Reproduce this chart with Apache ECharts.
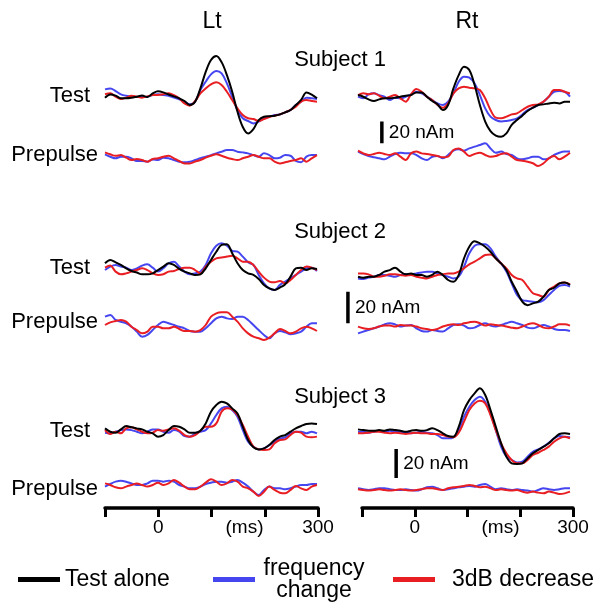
<!DOCTYPE html>
<html>
<head>
<meta charset="utf-8">
<script src="https://cdn.jsdelivr.net/npm/echarts@6/dist/echarts.min.js"></script>
<style>
  html, body { margin: 0; padding: 0; background: #fff; }
  #chart { width: 600px; height: 609px; }
</style>
</head>
<body>
<div id="chart"></div>
<script>
// time base (ms), shared by every trace
const times = [-100, -90, -80, -70, -60, -50, -40, -30, -20, -10, 0, 10, 20, 30, 40, 50, 60, 70, 80, 90,
  100, 110, 120, 130, 140, 150, 160, 170, 180, 190, 200, 210, 220, 230, 240, 250, 260, 270, 280, 290, 300];
const tickLabels = { 0: '0', 300: '300' };

// Subject 1 (nAm)
const s1LtTestBlack = [-1, 2, 1, -1.5, -1.5, -1, 0, 1, -0.3, 3, 5, 4, 2, 0.3, -1.5, -4, -7.7, -4.6, 7.7, 23, 34, 37.7, 32, 20, 4.6, -14, -28, -34, -30, -21.6, -18.5, -18, -17.6, -16.4, -14.5, -12.3, -7.7, -3, 4, 2, -1.5];
const s1LtTestBlue = [6.8, 7.7, 5.2, 2.2, 0.9, 0.3, -0.3, -0.3, 0, 1.5, 2.2, 1.5, 0.9, -0.9, -2.5, -4.6, -7.1, -4.6, 6.2, 13.9, 20.7, 23.8, 21.6, 12.3, 0, -12.3, -20, -22.5, -24.7, -23, -20, -18.5, -17, -16.4, -14.5, -12.3, -7.7, -4.6, -0.9, -1.5, -2.2];
const s1LtTestRed = [2.2, 3.1, 0, -2.2, -0.9, 0.9, 0, -0.9, 0.3, 1.5, 1.5, 2.2, 3.1, 1.5, -1.5, -6.2, -8.3, -4, 3.1, 7.7, 11.4, 13.3, 10.8, 4.6, -3.1, -10.8, -17, -20, -20.7, -22.5, -20.7, -18.8, -17.6, -16.4, -14.5, -12.3, -9.3, -4.6, -3.1, -4, -4.6];
const s1LtPreBlue = [2.2, 0, -1.5, 0, 0, -1.5, -4, -4, -4.6, -2.5, -3.1, -0.9, -1.5, -3.1, -4.6, -5.2, -4.6, -3.1, -1.5, 0, 1.5, 3.1, 4.6, 6.2, 6.2, 4.6, 4, 3.1, 1.5, 0, 3.1, 1.5, -1.5, -0.9, 1.5, 0.9, -4, -5.2, 0, 1.5, 1.5];
const s1LtPreRed = [4, 2.2, 0.9, 1.5, -0.9, -3.1, -2.2, -3.1, -4.6, -2.2, -1.5, 0, 0.9, -1.5, -4, -6.2, -6.2, -4.6, -3.1, -0.9, 0.9, 2.2, 0.9, -0.9, -2.2, -3.1, -1.5, 0, 1.5, 0, -1.5, -1.5, -4.6, -6.2, -5.2, -4, -3.1, -1.5, -4.6, -1.5, 1.5];
const s1RtTestBlack = [1.5, 0, -2.5, -4, -2.5, -1.5, -1.5, -0.9, 0, 0.9, 1.5, 4, 4, 0, -4, -7.1, -12.3, -7.7, 7.7, 20, 27.8, 24.7, 10.8, -7.7, -23, -31.8, -36, -37, -34, -26, -21.6, -17.6, -13.3, -10.2, -7.7, -7.1, -6.2, -5.6, -6.2, -4.6, -4.6];
const s1RtTestBlue = [0, -1.5, 2.2, 3.1, 1.5, 0, -3.1, -0.9, -1.5, 0, 2.2, 4.6, 3.1, 0, -3.1, -6.2, -7.7, -4.6, 3.1, 13.9, 18.5, 17.6, 12.3, 1.5, -10.8, -18.5, -21.6, -23, -22.5, -21.6, -20, -16.4, -12.3, -10.2, -7.7, -4.6, 0, 4.6, 5.2, 4.6, 0];
const s1RtTestRed = [1.5, 3.1, 2.2, 3.1, 0.9, -1.5, 0, 1.5, -1.5, -4.6, 2.2, 7.1, 4.6, 0, -3.1, -7.7, -10.2, -6.2, 3.1, 7.7, 9.3, 8.3, 7.7, 6.2, -1.5, -12.3, -19.4, -20, -18.5, -16.4, -15.4, -12.3, -9.3, -7.7, -7.1, -4.6, 0, 6.2, 6.2, 4.6, 3.1];
const s1RtPreBlue = [2.2, 0, -1.9, -3.1, -4, -4.9, -2.5, 0, 1.2, 0.6, 0.6, -0.9, -4, -5.6, -2.5, -1.9, -4, -0.9, 3.1, 4.3, 3.1, 5.2, 6.8, 8.3, 9.9, 5.2, 1.2, 2.2, 0, -0.9, -4, -4.9, -4, -2.5, -2.5, -4.9, -4, -0.9, 1.2, 2.2, 2.2];
const s1RtPreRed = [3.1, 0.6, -0.9, 0, 1.2, 0, -0.9, 0.6, -2.5, -5.6, 0.6, 2.2, 0.6, 0, -0.9, -1.9, -3.1, -2.5, 3.7, 5.2, 2.2, -1.9, 0, 1.2, -0.9, -2.5, -1.9, 0, 0.6, -2.5, -5.6, -6.2, -7.1, -8.6, -11.1, -8.6, -4, -1.9, -4.9, -2.5, 1.2];

// Subject 2 (nAm)
const s2LtTestBlack = [3.2, 5.3, 3.8, 2.1, 0, -1.7, -2.7, -3.8, -3.8, -3.2, -1.1, 1.1, 3.2, 2.1, -0.4, -2.1, -3.2, -4.2, -3.8, 0, 5.3, 10.5, 14.8, 15.2, 9.5, 3.2, -1.1, -3.2, -4.2, -6.8, -10.5, -12.7, -13.7, -12.2, -10.1, -5.3, 0, 0.4, -1.1, 0, -0.4];
const s2LtTestBlue = [-1.1, 1.1, 2.1, 1.1, 0.4, -1.1, 0, 1.7, 2.5, 0.4, -2.1, 0, 3.2, 4.2, 1.1, -2.1, -3.8, -3.2, -2.1, 2.1, 9.5, 14.3, 15.8, 14.3, 11, 10.5, 7.4, 3.8, 2.1, -4.2, -9.5, -12.7, -13.7, -10.5, -8.4, -6.3, -4.2, -2.1, 0, 0.4, -1.7];
const s2LtTestRed = [0.4, 1.7, -2.1, -3.8, -3.2, -2.1, -1.1, 0, -1.1, -3.2, -4.2, -3.8, -2.1, -1.7, -0.4, 0.4, 0.4, -1.1, -3.2, 1.1, 4.2, 6.3, 6.8, 7.4, 8, 6.3, 4.2, 4.2, 2.1, -2.1, -5.9, -8.4, -8.9, -8, -9.5, -7.4, -4.2, -1.1, 1.1, 0.4, -1.1];
const s2LtPreBlue = [5.3, 6.3, 3.2, 2.1, 1.1, -1.1, -4.2, -7.4, -6.3, -3.2, 0, 2.1, 1.1, 0, -1.1, -2.1, -3.8, -4.2, -4.2, -2.1, 1.1, 4.2, 5.3, 4.2, 3.8, 5.3, 5.3, 3.2, 0, -3.2, -6.3, -8.4, -5.3, -3.8, -4.6, -5.9, -5.3, -4.2, -1.1, 1.1, 1.1];
const s2LtPreRed = [0, 1.7, 2.5, 3.2, 2.1, -1.1, -3.2, -5.3, -4.2, -1.1, -1.1, -2.1, -2.1, -1.1, -2.5, -3.8, -3.8, -4.2, -3.2, 0, 5.3, 7.4, 8, 8, 5.3, 2.1, -2.1, -5.3, -7.4, -8.4, -9.5, -8, -5.3, -2.5, -3.8, -5.3, -4.2, -2.1, -1.1, -2.1, -3.8];
const s2RtTestBlack = [0, -0.6, 0, 0, 1.1, 3.2, 4.2, 5.7, 3.2, 1.5, 2.1, 1.1, 1.1, 0, 1.1, 3.2, 1.1, -2.1, -3.2, 1.1, 11.6, 19, 22.4, 21.1, 19, 15.8, 11.6, 8.4, 4.2, -3.2, -9.5, -15.8, -18, -16.9, -15.8, -12.7, -8.4, -7, -4.2, -3.6, -5.3];
const s2RtTestBlue = [-1.1, -1.5, -0.6, 0, 1.1, 1.1, 0.6, 0, 1.1, 1.5, 1.5, 2.1, 2.7, 3.2, 3.2, 2.1, 1.1, 0, -1.1, 0, 6.3, 14.8, 19.6, 20.5, 20.5, 17.9, 12.7, 8.4, 3.2, -4.2, -11.6, -14.8, -15.4, -15.8, -16.2, -14.8, -11.6, -8.4, -5.7, -5.3, -6.3];
const s2RtTestRed = [2.1, 2.1, 1.5, 0, 0, 0.6, 1.5, 1.5, 1.1, 0.6, 1.1, 0, -0.6, -1.1, 0, 1.1, 1.5, 2.1, 2.1, 3.2, 5.3, 7.8, 9.5, 11.6, 13.7, 14.1, 11.6, 8.4, 5.3, 1.1, -1.1, -2.1, -6.3, -10.5, -11.6, -12.7, -8.4, -6.3, -4.2, -3.6, -4.9];
const s2RtPreBlue = [-3.2, -2.1, -1.1, 0, 1.1, 2.5, 3.2, 2.5, 1.1, 1.7, 2.1, 0, -1.7, -2.1, -1.1, -1.7, -2.1, 0, 2.1, 2.5, 1.7, 0, 0.4, 2.1, 3.2, 1.7, 1.1, 2.1, 3.2, 4.2, 3.2, 2.1, 0.4, 0, 1.1, 2.1, 1.1, -0.4, -1.1, -1.1, -1.7];
const s2RtPreRed = [1.1, 0, -0.4, 0, 1.1, 1.7, 1.7, 1.1, 2.1, 1.7, 1.7, 1.1, 0, -0.4, -1.1, -0.4, 1.1, 2.1, 2.5, 2.1, 3.2, 3.8, 4.2, 3.2, 1.7, 2.5, 2.1, 1.7, 1.1, 0.4, 0, 1.1, 2.5, 3.2, 2.1, 0.4, 0, 1.1, 2.5, 2.5, 1.7];

// Subject 3 (nAm)
const s3LtTestBlack = [2.3, 0, -0.7, 1.6, 3.9, 3, 2.3, 1.6, 0, -1.1, -3.4, -2.3, 1.1, 3.9, 3.4, 1.6, -0.7, -0.7, 0.7, 5.7, 13.8, 18.4, 20.7, 19.5, 16.1, 12.6, 3.4, -5.7, -10.8, -12.2, -11.5, -9.2, -5.7, -3.4, -2.3, 0, 2.3, 3.9, 5.3, 5.7, 5.3];
const s3LtTestBlue = [-0.7, -1.1, 0, 1.1, 1.6, 1.1, 0, -1.1, 0, 1.6, 1.6, 0, -0.7, 1.1, 0, -3, -3.4, -1.1, 0, 1.1, 5.7, 11.5, 16.1, 17.2, 14.9, 10.3, 1.1, -6.9, -10.3, -12.2, -11.5, -9.2, -6.9, -4.6, -3.9, -1.1, 0, 0, -1.1, 0, -1.1];
const s3LtTestRed = [1.1, -1.6, 0, -1.1, 2.3, 3, 1.6, 0, -1.1, -0.7, 1.1, 0.7, 1.6, 2.3, 0.7, -2.3, -3.4, -2.3, 0.7, 3.4, 3.4, 5.7, 13.8, 16.1, 15.4, 11.5, 4.6, -3.4, -10.3, -12.2, -12.6, -12.2, -8, -5.7, -5.3, -2.3, 0, -0.7, -3.4, -3.9, -3.4];
const s3LtPreBlue = [-1.1, 0.7, 2.3, 3, 2.3, 1.1, 0, 0, 1.1, 3, 3, 2.3, 3, 2.3, 0, -1.1, -2.3, -2.3, -1.1, 0.7, 1.6, 2.3, 2.3, 1.6, 2.3, 3.4, 1.6, -1.1, -4.6, -6.9, -3.4, -1.1, -2.3, -2.3, -3, -2.3, -1.1, 0, 0, 0.7, 0.7];
const s3LtPreRed = [1.1, 0, -1.6, -2.3, -1.1, 0, 1.1, 0, -1.1, 0, 1.6, 0, 1.1, 3.4, 1.6, -1.1, -3, -3, -1.1, 1.6, 3.9, 2.3, 0, 1.1, 3.4, 2.3, -1.1, -2.3, -4.6, -7.6, -4.6, -1.1, -3.4, -5.3, -5.7, -3.4, -0.7, -2.3, -3.4, -1.1, 0];
const s3RtTestBlack = [1.6, 1.1, 0.7, 0.7, 1.1, 0.7, 1.6, 1.1, 0.7, 0, 0.7, 1.1, 0.7, 1.1, 2.3, 1.1, -1.1, -3, -3.4, 3.4, 14.9, 21.8, 26.4, 29.9, 25.3, 14.9, 3.4, -8, -17.2, -21.8, -22.3, -21.8, -18.4, -14.9, -12.6, -10.3, -8, -4.6, -1.6, -1.1, -1.6];
const s3RtTestBlue = [0, 0, -0.7, 0, 0.7, 0, 0.7, 0, 0, -0.7, -1.1, -0.7, 0, -0.7, -1.1, -2.3, -4.6, -4.6, -3.9, 1.1, 10.3, 17.2, 21.8, 24.1, 20.7, 12.6, 1.1, -10.3, -17.2, -19.5, -21.3, -20.7, -17.2, -13.8, -12.2, -10.3, -7.6, -4.6, -3, -3.4, -3.9];
const s3RtTestRed = [-1.1, -1.1, -0.7, 0, 0, -0.7, -1.1, -0.7, -1.1, -1.6, -1.1, -0.7, -1.1, -1.1, -1.6, -1.6, -2.3, -3.4, -3.9, -0.7, 6.9, 14.9, 19.5, 21.3, 19.5, 11.5, 1.1, -8, -14.9, -19.5, -21.8, -21.8, -19.5, -16.1, -14.5, -12.6, -10.3, -6.9, -4.6, -3.4, -4.6];
const s3RtPreBlue = [0.7, 0, -0.5, 0, 0.7, 0.7, 0, -0.5, -0.5, 0, -0.5, -0.9, 0, 1.4, 1.8, 0.7, -0.5, 0, 0.7, 1.4, 1.8, 2.3, 1.8, 3, 3.7, 1.8, 0, 0.7, 0, -0.5, 0, -0.5, -0.9, -1.6, -0.5, 0.7, 0, -0.5, 0, 0.7, 0.7];
const s3RtPreRed = [0, -0.5, -0.9, -0.5, 0, -0.5, -0.9, -0.5, 0, -0.5, -0.9, -0.5, 0, 0.7, 0.7, 0, -0.5, 0.7, 1.4, 1.8, 2.3, 3, 2.3, 1.4, 1.8, 0.7, -0.5, 0, -0.5, -0.9, -0.5, -1.6, -2.3, -1.6, -2.3, -2.8, -1.6, -2.3, -3.2, -2.8, -1.6];

// 20 nAm scale bars (time, lower end in nAm) in the Rt test panels
const scaleBarSize = 20;
const scaleBarTime = [-55, -119, -28];
const scaleBarBase = [-43, -29.5, -32];

const font = 'Liberation Sans, Arial, Helvetica, sans-serif';
const colors = { black: '#000000', blue: '#4646f0', red: '#e81e23' };
const names = { black: 'Test alone', blue: 'frequency change', red: '3dB decrease' };

// y0 = pixel row of 0 nAm, s = pixels per nAm
const panels = [
  { col: 0, y0: 96.7, s: 1.08, lines: { blue: s1LtTestBlue, red: s1LtTestRed, black: s1LtTestBlack } },
  { col: 0, y0: 156.7, s: 1.08, lines: { blue: s1LtPreBlue, red: s1LtPreRed } },
  { col: 1, y0: 96.7, s: 1.08, lines: { blue: s1RtTestBlue, red: s1RtTestRed, black: s1RtTestBlack }, bar: 0 },
  { col: 1, y0: 154, s: 1.08, lines: { blue: s1RtPreBlue, red: s1RtPreRed } },
  { col: 0, y0: 268.3, s: 1.58, lines: { blue: s2LtTestBlue, red: s2LtTestRed, black: s2LtTestBlack } },
  { col: 0, y0: 325, s: 1.58, lines: { blue: s2LtPreBlue, red: s2LtPreRed } },
  { col: 1, y0: 276.7, s: 1.58, lines: { blue: s2RtTestBlue, red: s2RtTestRed, black: s2RtTestBlack }, bar: 1 },
  { col: 1, y0: 328.3, s: 1.58, lines: { blue: s2RtPreBlue, red: s2RtPreRed } },
  { col: 0, y0: 431.7, s: 1.45, lines: { blue: s3LtTestBlue, red: s3LtTestRed, black: s3LtTestBlack } },
  { col: 0, y0: 485, s: 1.45, lines: { blue: s3LtPreBlue, red: s3LtPreRed } },
  { col: 1, y0: 431.7, s: 1.45, lines: { blue: s3RtTestBlue, red: s3RtTestRed, black: s3RtTestBlack }, bar: 2 },
  { col: 1, y0: 489.3, s: 1.45, lines: { blue: s3RtPreBlue, red: s3RtPreRed } }
];

// panels start a bit before -100 ms so the Subject 2 scale bar fits
const xMin = -130, xMax = 300, pxPerMs = 0.53;
const yMin = -60, yMax = 45;
const grid = [], xAxis = [], yAxis = [], series = [];

panels.forEach((p, i) => {
  const left0 = p.col ? 358 : 105;
  grid.push({ left: left0 - (-100 - xMin) * pxPerMs, width: (xMax - xMin) * pxPerMs,
    top: p.y0 - yMax * p.s, height: (yMax - yMin) * p.s });
  xAxis.push({ gridIndex: i, type: 'value', min: xMin, max: xMax, show: false });
  yAxis.push({ gridIndex: i, type: 'value', min: yMin, max: yMax, show: false });
  Object.keys(p.lines).forEach(k => {
    series.push({
      name: names[k], type: 'line', xAxisIndex: i, yAxisIndex: i,
      data: times.map((t, j) => [t, p.lines[k][j]]),
      showSymbol: false, smooth: 0.35, silent: true,
      z: k === 'black' ? 4 : (k === 'red' ? 3 : 2),
      itemStyle: { color: colors[k] },
      lineStyle: { color: colors[k], width: 2 }
    });
  });
  if (p.bar !== undefined) {
    const t = scaleBarTime[p.bar], b = scaleBarBase[p.bar];
    series.push({
      name: 'scale', type: 'line', xAxisIndex: i, yAxisIndex: i,
      data: [[t, b], [t, b + scaleBarSize]], showSymbol: false, silent: true, z: 5,
      lineStyle: { color: '#000', width: 3.5 }
    });
    series.push({
      name: 'scale label', type: 'scatter', xAxisIndex: i, yAxisIndex: i,
      data: [[t, b + scaleBarSize / 2]], symbolSize: 0, silent: true, z: 5,
      itemStyle: { color: '#000', opacity: 1 },
      label: { show: true, position: 'right', distance: 7, formatter: scaleBarSize + ' nAm',
        fontSize: 19, fontFamily: font, color: '#000', opacity: 1, textBorderWidth: 0 }
    });
  }
});

// time axes under each column
[{ left: 105, width: 213 }, { left: 362, width: 211 }].forEach(a => {
  const gi = grid.length;
  grid.push({ left: a.left, width: a.width, top: 498, height: 10 });
  yAxis.push({ gridIndex: gi, type: 'value', show: false });
  xAxis.push({
    gridIndex: gi, type: 'value', min: -100, max: 300, interval: 100, position: 'bottom',
    axisLine: { lineStyle: { color: '#000', width: 3.5 } },
    axisTick: { length: 9, lineStyle: { color: '#000', width: 3 } },
    splitLine: { show: false },
    axisLabel: { margin: 10, fontSize: 19, fontFamily: font, color: '#000',
      showMinLabel: true, showMaxLabel: true, formatter: v => tickLabels[v] || '' },
    name: '(ms)', nameLocation: 'middle', nameGap: 10, nameMoveOverlap: false,
    nameTextStyle: { fontSize: 19, fontFamily: font, color: '#000', padding: [0, 0, 0, 66] }
  });
});

function label(text, x, y, size, align) {
  return {
    type: 'text', x: x, y: y, silent: true,
    style: { text: text, fontSize: size, fontFamily: font, fill: '#000',
      align: align, textAlign: align, verticalAlign: 'middle', textVerticalAlign: 'middle' }
  };
}

const graphic = [
  label('Lt', 212, 22, 23, 'center'),
  label('Rt', 467, 22, 23, 'center'),
  label('Subject 1', 340, 60, 22, 'center'),
  label('Subject 2', 340, 232, 22, 'center'),
  label('Subject 3', 340, 397, 22, 'center'),
  label('Test', 90, 96, 22, 'right'),
  label('Prepulse', 98, 155, 22, 'right'),
  label('Test', 90, 268, 22, 'right'),
  label('Prepulse', 98, 322, 22, 'right'),
  label('Test', 90, 431, 22, 'right'),
  label('Prepulse', 98, 489, 22, 'right')
];

// one legend per entry so each can sit where it does in the figure
const legendText = { fontSize: 23, fontFamily: font, color: '#000',
  rich: {
    c: { fontSize: 23, fontFamily: font, width: 108, align: 'center', lineHeight: 22 },
    r: { fontSize: 23, fontFamily: font, lineHeight: 22, padding: [0, 0, 0, 12] },
    a: { fontSize: 23, fontFamily: font, lineHeight: 22 }
  } };
const legendBase = { padding: 0, itemWidth: 42, itemHeight: 5, icon: 'rect', selectedMode: false, textStyle: legendText };
const legend = [
  Object.assign({}, legendBase, { left: 18, top: 568, data: ['Test alone'], formatter: n => '{a|' + n + '}' }),
  Object.assign({}, legendBase, { left: 213, top: 557, data: ['frequency change'],
    formatter: () => '{c|frequency}\n{c|change}' }),
  Object.assign({}, legendBase, { left: 393, top: 568, data: ['3dB decrease'], formatter: n => '{r|' + n + '}' })
];

const chart = echarts.init(document.getElementById('chart'), null, { renderer: 'canvas' });
chart.setOption({
  animation: false,
  backgroundColor: '#fff',
  grid, xAxis, yAxis, series, graphic, legend
});
</script>
</body>
</html>
